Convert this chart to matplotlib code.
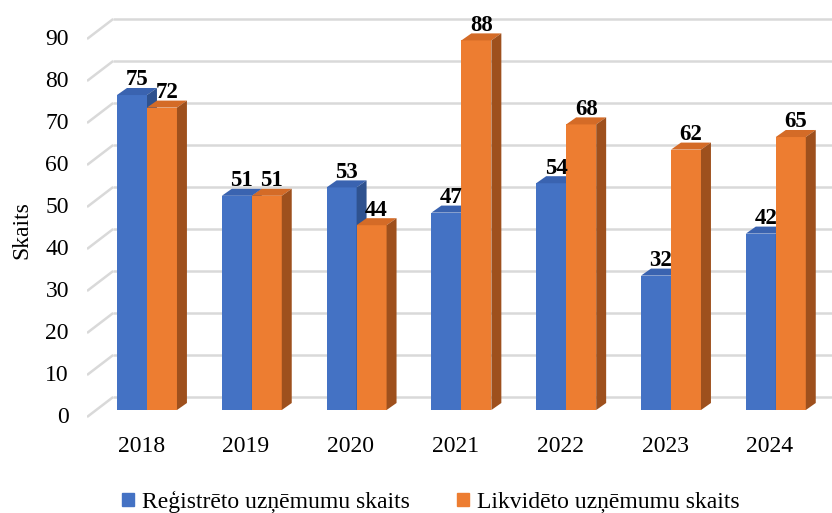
import matplotlib.pyplot as plt
from matplotlib.patches import Polygon, Patch

# dati
years = ['2018', '2019', '2020', '2021', '2022', '2023', '2024']
registreti = [75, 51, 53, 47, 54, 32, 42]
likvideti = [72, 51, 44, 88, 68, 62, 65]
yticks = [0, 10, 20, 30, 40, 50, 60, 70, 80, 90]
series_names = ['Reģistrēto uzņēmumu skaits', 'Likvidēto uzņēmumu skaits']

blue = ('#4472C4', '#3A63B0', '#2F528F')      # priekša, augša, sāns
orange = ('#ED7D31', '#D46B27', '#9E501D')

plt.rcParams['font.family'] = ['Liberation Serif', 'DejaVu Serif']

fig = plt.figure(figsize=(8.32, 5.13), dpi=100)
ax = fig.add_axes([87 / 832, 0, 745 / 832, 1])
x_left, x_right = -0.5725, 6.536
ax.set_xlim(x_left, x_right)
ax.set_ylim(-24.52, 97.62)
ax.axis('off')

w = 0.286        # stabiņa platums
dx, dy = 0.095, 1.67     # stabiņa dziļums
wx, wy_front, wy_back = 0.25, -1.67, 3.1   # sienas perspektīva

# režģa līnijas (3D siena)
for t in yticks:
    ax.plot([x_left, x_left + wx], [t + wy_front, t + wy_back],
            color='#D9D9D9', lw=1.8, zorder=1, solid_capstyle='butt')
    ax.plot([x_left + wx, x_right], [t + wy_back, t + wy_back],
            color='#D9D9D9', lw=1.8, zorder=1, solid_capstyle='butt')
    ax.text(x_left - 0.172, t - 1.9, str(t), ha='right', va='center', fontsize=17)


def bar3d(x0, h, colors):
    face, top, side = colors
    ax.bar(x0, h, width=w, align='edge', color=face, zorder=3, linewidth=0)
    ax.add_patch(Polygon([(x0, h), (x0 + dx, h + dy), (x0 + w + dx, h + dy), (x0 + w, h)],
                         closed=True, color=top, zorder=3, linewidth=0))
    ax.add_patch(Polygon([(x0 + w, 0), (x0 + w, h), (x0 + w + dx, h + dy), (x0 + w + dx, dy)],
                         closed=True, color=side, zorder=3, linewidth=0))
    ax.text(x0 + w / 2 + dx / 2, h + dy + 0.6, str(h), ha='center', va='baseline',
            fontsize=16.5, fontweight='bold', zorder=5)


for i, year in enumerate(years):
    bar3d(i - w, registreti[i], blue)
    bar3d(i, likvideti[i], orange)
    ax.text(i - 0.055, -8.8, year, ha='center', va='center', fontsize=17)

fig.text(22 / 832, 1 - 230 / 513, 'Skaits', rotation=90, ha='center', va='center', fontsize=17)

handles = [Patch(color=blue[0]), Patch(color=orange[0])]
fig.legend(handles, series_names, loc='center', bbox_to_anchor=(0.518, 0.022), ncol=2,
           frameon=False, fontsize=17, handlelength=0.5, handleheight=0.5,
           handletextpad=0.35, columnspacing=2.0, borderaxespad=0, borderpad=0)

fig.savefig('out.png', dpi=100)
